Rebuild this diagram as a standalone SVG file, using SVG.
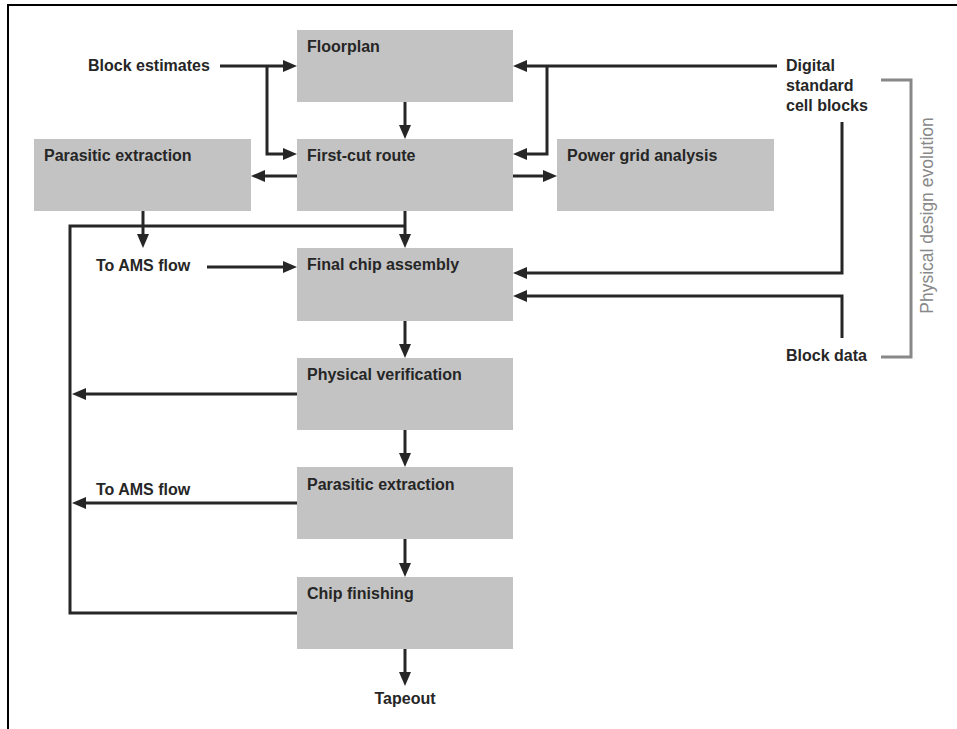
<svg xmlns="http://www.w3.org/2000/svg" width="957" height="729" viewBox="0 0 957 729">
<style>
.box{fill:#c3c3c3;}
.t{font-family:"Liberation Sans",Arial,sans-serif;font-weight:bold;font-size:16px;fill:#262626;}
.c{fill:none;stroke:#262626;stroke-width:3;}
.frame{fill:none;stroke:#000;stroke-width:2;}
</style>
<defs>
<marker id="ah" markerUnits="userSpaceOnUse" markerWidth="14" markerHeight="12" refX="2" refY="6" orient="auto" viewBox="0 0 14 12">
<path d="M0,0 L14,6 L0,12 z" fill="#262626"/>
</marker>
</defs>
<rect width="957" height="729" fill="#fff"/>
<path class="frame" d="M8,729 V5 H957"/>
<g id="connectors">
<path class="c" d="M220,66 H285" marker-end="url(#ah)"/>
<path class="c" d="M267,66 V154 H285" marker-end="url(#ah)"/>
<path class="c" d="M777,66 H525" marker-end="url(#ah)"/>
<path class="c" d="M547,66 V154 H525" marker-end="url(#ah)"/>
<path class="c" d="M405,102 V127" marker-end="url(#ah)"/>
<path class="c" d="M297,176 H263" marker-end="url(#ah)"/>
<path class="c" d="M513,176 H545" marker-end="url(#ah)"/>
<path class="c" d="M405,211 V236" marker-end="url(#ah)"/>
<path class="c" d="M297,613 H70 V226 H405"/>
<path class="c" d="M143,211 V236" marker-end="url(#ah)"/>
<path class="c" d="M207,267 H285" marker-end="url(#ah)"/>
<path class="c" d="M842,122 V273 H525" marker-end="url(#ah)"/>
<path class="c" d="M842,338 V296 H525" marker-end="url(#ah)"/>
<path class="c" d="M405,321 V346" marker-end="url(#ah)"/>
<path class="c" d="M297,394 H84" marker-end="url(#ah)"/>
<path class="c" d="M405,430 V455" marker-end="url(#ah)"/>
<path class="c" d="M297,503 H84" marker-end="url(#ah)"/>
<path class="c" d="M405,539 V565" marker-end="url(#ah)"/>
<path class="c" d="M405,649 V674" marker-end="url(#ah)"/>
</g>
<g id="floorplan"><rect class="box" x="297" y="30" width="216" height="72"/><text class="t" x="307" y="52">Floorplan</text></g>
<g id="first-cut-route"><rect class="box" x="297" y="139" width="216" height="72"/><text class="t" x="307" y="161">First-cut route</text></g>
<g id="parasitic-extraction-1"><rect class="box" x="34" y="139" width="217" height="72"/><text class="t" x="44" y="161">Parasitic extraction</text></g>
<g id="power-grid-analysis"><rect class="box" x="557" y="139" width="217" height="72"/><text class="t" x="567" y="161">Power grid analysis</text></g>
<g id="final-chip-assembly"><rect class="box" x="297" y="248" width="216" height="73"/><text class="t" x="307" y="270">Final chip assembly</text></g>
<g id="physical-verification"><rect class="box" x="297" y="358" width="216" height="72"/><text class="t" x="307" y="380">Physical verification</text></g>
<g id="parasitic-extraction-2"><rect class="box" x="297" y="467" width="216" height="72"/><text class="t" x="307" y="490">Parasitic extraction</text></g>
<g id="chip-finishing"><rect class="box" x="297" y="577" width="216" height="72"/><text class="t" x="307" y="599">Chip finishing</text></g>
<g id="block-estimates"><text class="t" x="88" y="71">Block estimates</text></g>
<g id="digital-standard-cell-blocks"><text class="t" x="786" y="71">Digital</text><text class="t" x="786" y="91">standard</text><text class="t" x="786" y="111">cell blocks</text></g>
<g id="block-data"><text class="t" x="786" y="361">Block data</text></g>
<g id="to-ams-flow-1"><text class="t" x="96" y="271">To AMS flow</text></g>
<g id="to-ams-flow-2"><text class="t" x="96" y="495">To AMS flow</text></g>
<g id="tapeout"><text class="t" x="405" y="704" text-anchor="middle">Tapeout</text></g>
<g id="physical-design-evolution">
<path d="M881,80 H911 V357 H881" fill="none" stroke="#888" stroke-width="3"/>
<text transform="translate(933,215.5) rotate(-90)" text-anchor="middle" style="font-family:'Liberation Sans',Arial,sans-serif;font-size:17.5px;fill:#888;">Physical design evolution</text>
</g>
</svg>
